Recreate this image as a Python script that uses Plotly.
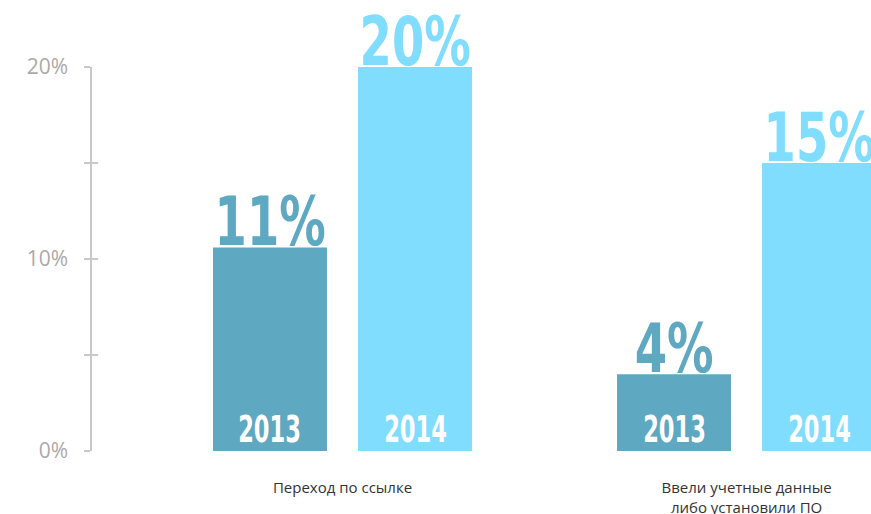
import plotly.graph_objects as go

# Share of users who did each action, by year
categories = ["Переход по ссылке", "Ввели учетные данные<br>либо установили ПО"]
years = ["2013", "2014"]
values_2013 = [10.6, 4.0]
values_2014 = [20.0, 15.0]
y_tickvals = [0, 5, 10, 15, 20]
y_ticktext = ["0%", "", "10%", "", "20%"]

colors = {"2013": "#5fa8c2", "2014": "#80ddfd"}
series = {"2013": values_2013, "2014": values_2014}

BARGAP = 0.282
GROUPGAP = 0.214
BIG_FONT = "DejaVu Sans Condensed, DejaVu Sans, sans-serif"
VALUE_SIZE = 67
YEAR_SIZE = 38

fig = go.Figure()
for yr in years:
    fig.add_trace(go.Bar(
        x=categories, y=series[yr], name=yr,
        marker=dict(color=colors[yr], line=dict(width=0)),
        hoverinfo="skip",
    ))

# centre of each bar within its group, in category units
slot = (1 - BARGAP) / len(years)
offsets = {yr: -(1 - BARGAP) / 2 + slot * (i + 0.5) for i, yr in enumerate(years)}

annotations = []
for yr in years:
    for i, v in enumerate(series[yr]):
        xpos = i + offsets[yr]
        # value above the bar
        annotations.append(dict(
            x=xpos, y=v, xref="x", yref="y", text=f"<b>{v:.0f}%</b>",
            showarrow=False, yanchor="bottom", yshift=-16,
            font=dict(family=BIG_FONT, size=VALUE_SIZE, color=colors[yr]),
        ))
        # year inside the bar, at its foot
        annotations.append(dict(
            x=xpos, y=0, xref="x", yref="y", text=f"<b>{yr}</b>",
            showarrow=False, yanchor="bottom", yshift=-2,
            font=dict(family=BIG_FONT, size=YEAR_SIZE, color="white"),
        ))

fig.update_layout(
    width=871, height=514,
    margin=dict(l=92, r=0, t=67, b=63),
    paper_bgcolor="white", plot_bgcolor="white",
    barmode="group", bargap=BARGAP, bargroupgap=GROUPGAP,
    showlegend=False,
    annotations=annotations,
    xaxis=dict(
        type="category", range=[-0.62, 1.308], automargin=False,
        showline=False, showgrid=False, zeroline=False, ticks="",
        tickfont=dict(family="Open Sans, sans-serif", size=15, color="#333333"),
        ticklabelstandoff=26,
    ),
    yaxis=dict(
        range=[0, 20], tickvals=y_tickvals, ticktext=y_ticktext, automargin=False,
        showline=True, linecolor="#c8c8c8", linewidth=1.5,
        ticks="outside", ticklen=6, tickcolor="#c8c8c8", tickwidth=1.5,
        showgrid=False, zeroline=False,
        tickfont=dict(family="Open Sans, sans-serif", size=21, color="#aaaaaa"),
        ticklabelstandoff=12,
    ),
    yaxis2=dict(
        range=[0, 20], tickvals=y_tickvals, overlaying="y", side="left",
        automargin=False,
        showline=False, ticks="inside", ticklen=6, tickcolor="#c8c8c8",
        tickwidth=1.5, showticklabels=False, showgrid=False, zeroline=False,
    ),
)
# invisible trace to bring the second axis into the layout
fig.add_trace(go.Scatter(x=[categories[0]], y=[0], yaxis="y2", mode="markers",
                         marker=dict(opacity=0), hoverinfo="skip", showlegend=False))

# narrow the big bold labels horizontally to a condensed look
condense = """
var gd = document.getElementById('{plot_id}');
gd.querySelectorAll('.annotation-text').forEach(function (el) {
  var size = parseFloat(el.style.fontSize) || 0;
  var k = size > 50 ? 0.77 : 0.66;
  el.style.transformBox = 'fill-box';
  el.style.transformOrigin = 'center';
  el.style.transform = 'scaleX(' + k + ')';
});
"""

fig.write_html("out.html", post_script=condense)
